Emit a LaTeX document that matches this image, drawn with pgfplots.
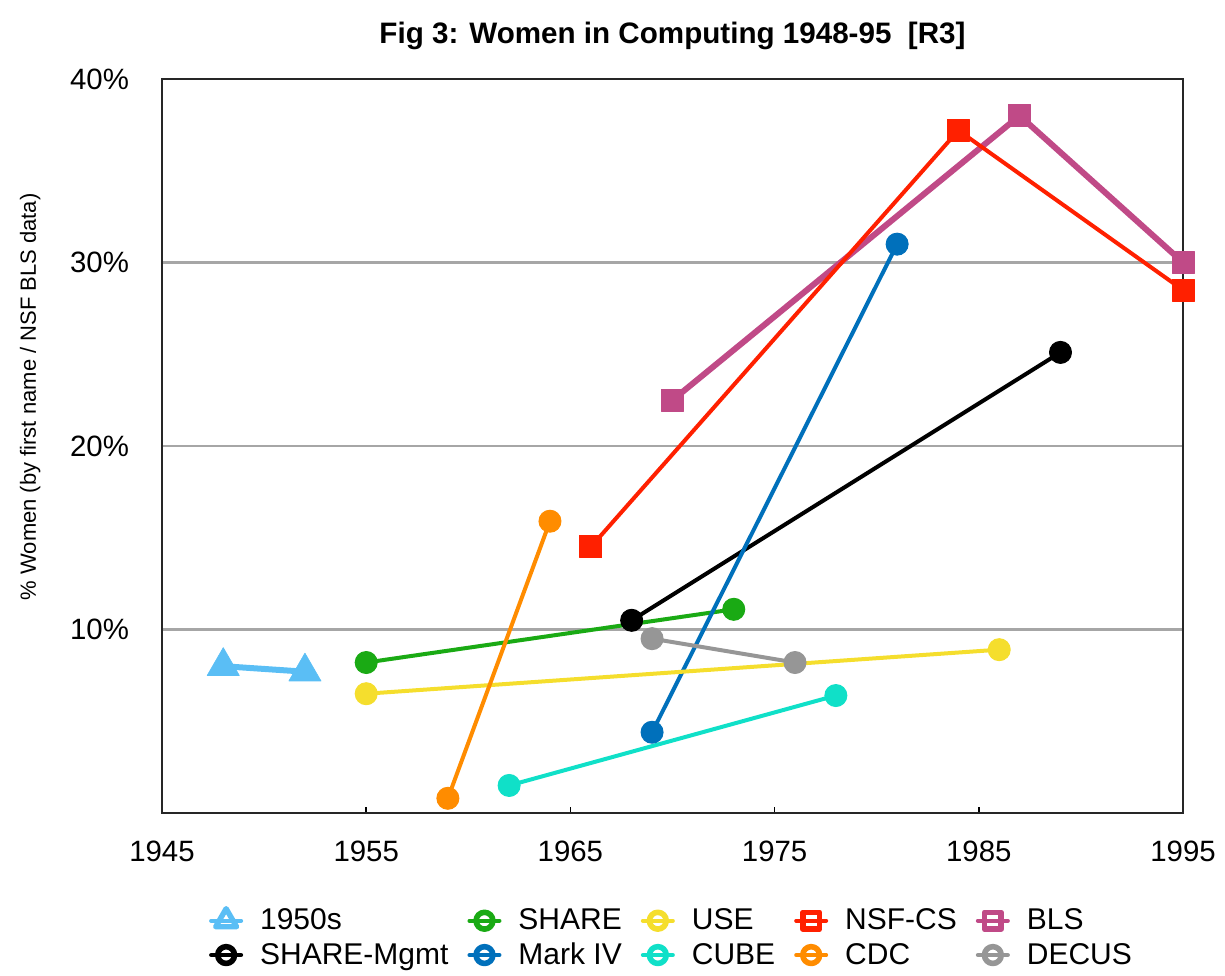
\documentclass[border=0pt]{standalone}
\usepackage{pgfplots}
\pgfplotsset{compat=1.18}
\usepackage{fontspec}
\setmainfont{Liberation Sans}
\definecolor{cFifties}{RGB}{90,190,245}
\definecolor{cShare}{RGB}{26,170,20}
\definecolor{cUse}{RGB}{245,222,45}
\definecolor{cNsf}{RGB}{255,32,0}
\definecolor{cBls}{RGB}{192,74,135}
\definecolor{cMgmt}{RGB}{0,0,0}
\definecolor{cMark}{RGB}{0,112,187}
\definecolor{cCube}{RGB}{16,224,200}
\definecolor{cCdc}{RGB}{255,140,0}
\definecolor{cDecus}{RGB}{150,150,150}
\begin{document}
\begin{tikzpicture}
\begin{axis}[name=ax, scale only axis, width=510.5pt, height=367pt,
  xmin=1945, xmax=1995, ymin=0, ymax=40, clip=false,
  xtick={1945,1955,...,1995}, ytick={10,20,30,40},
  yticklabels={10\%,20\%,30\%,40\%},
  tick label style={font=\fontsize{14.7}{17}\selectfont},
  xticklabel style={yshift=-10.5pt, /pgf/number format/set thousands separator={}, /pgf/number format/assume math mode=true},
  yticklabel style={xshift=-13pt},
  xtick pos=bottom, ytick pos=left, tick align=inside,
  major tick length=3pt, ytick style={draw=none},
  xtick style={black, line width=0.8pt},
  ymajorgrids, grid style={color=black!35, line width=1.2pt},
  axis line style={black!85, line width=1pt},
  title={Fig 3: Women in Computing 1948-95\ \ [R3]},
  title style={font=\bfseries\fontsize{14.8}{17}\selectfont, at={(0.5,1)}, anchor=center, yshift=15.5pt},
  ylabel={\% Women (by first name / NSF BLS data)},
  ylabel style={font=\fontsize{11}{13}\selectfont, at={(axis description cs:-0.129,0.567)}, anchor=center},
  legend style={draw=none, at={(0.5,-0.119)}, anchor=north, legend columns=5,
    font=\fontsize{15}{17}\selectfont, legend cell align=left, row sep=1pt,
    /tikz/every odd column/.append style={column sep=6.5pt},
    /tikz/every even column/.append style={column sep=7.5pt}},
  legend image code/.code={\draw[mark repeat=2,mark phase=2,#1] plot coordinates {(0pt,0pt) (7.5pt,0pt) (15pt,0pt)};},
  every axis plot/.append style={line join=round, line cap=round},
]
% data
\addplot[forget plot, color=cBls, line width=3pt, mark=square*, mark size=5.5pt, mark options={line width=0.5pt}] coordinates {(1970,22.5) (1987,38.0) (1995,30.0)};
\addplot[forget plot, color=cNsf, line width=2pt, mark=square*, mark size=5.5pt, mark options={line width=0.5pt}] coordinates {(1966,14.5) (1984,37.2) (1995,28.5)};
\addplot[forget plot, color=cMgmt, line width=2pt, mark=*, mark size=5.5pt, mark options={line width=0.5pt}] coordinates {(1968,10.5) (1989,25.1)};
\addplot[forget plot, color=cShare, line width=2pt, mark=*, mark size=5.5pt, mark options={line width=0.5pt}] coordinates {(1955,8.2) (1973,11.1)};
\addplot[forget plot, color=cMark, line width=2pt, mark=*, mark size=5.5pt, mark options={line width=0.5pt}] coordinates {(1969,4.4) (1981,31.0)};
\addplot[forget plot, color=cUse, line width=2pt, mark=*, mark size=5.5pt, mark options={line width=0.5pt}] coordinates {(1955,6.5) (1986,8.9)};
\addplot[forget plot, color=cDecus, line width=2pt, mark=*, mark size=5.5pt, mark options={line width=0.5pt}] coordinates {(1969,9.5) (1976,8.2)};
\addplot[forget plot, color=cCube, line width=2pt, mark=*, mark size=5.5pt, mark options={line width=0.5pt}] coordinates {(1962,1.5) (1978,6.4)};
\addplot[forget plot, color=cCdc, line width=2pt, mark=*, mark size=5.5pt, mark options={line width=0.5pt}] coordinates {(1959,0.8) (1964,15.9)};
\addplot[forget plot, color=cFifties, line width=3pt, mark=triangle*, mark size=9.3pt, mark options={line width=0.3pt}] coordinates {(1948,8.0) (1952,7.7)};
% legend
\addlegendimage{color=cFifties, line width=2pt, mark=triangle, mark size=6pt, mark options={fill=white, line width=2.7pt}}
\addlegendentry{1950s}
\addlegendimage{color=cShare, line width=2pt, mark=o, mark size=4.2pt, mark options={fill=white, line width=2.8pt}}
\addlegendentry{SHARE}
\addlegendimage{color=cUse, line width=2pt, mark=o, mark size=4.2pt, mark options={fill=white, line width=2.8pt}}
\addlegendentry{USE}
\addlegendimage{color=cNsf, line width=2pt, mark=square, mark size=4.2pt, mark options={fill=white, line width=2.8pt}}
\addlegendentry{NSF-CS}
\addlegendimage{color=cBls, line width=2pt, mark=square, mark size=4.2pt, mark options={fill=white, line width=2.8pt}}
\addlegendentry{BLS}
\addlegendimage{color=cMgmt, line width=2pt, mark=o, mark size=4.2pt, mark options={fill=white, line width=2.8pt}}
\addlegendentry{SHARE-Mgmt}
\addlegendimage{color=cMark, line width=2pt, mark=o, mark size=4.2pt, mark options={fill=white, line width=2.8pt}}
\addlegendentry{Mark IV}
\addlegendimage{color=cCube, line width=2pt, mark=o, mark size=4.2pt, mark options={fill=white, line width=2.8pt}}
\addlegendentry{CUBE}
\addlegendimage{color=cCdc, line width=2pt, mark=o, mark size=4.2pt, mark options={fill=white, line width=2.8pt}}
\addlegendentry{CDC}
\addlegendimage{color=cDecus, line width=2pt, mark=o, mark size=4.2pt, mark options={fill=white, line width=2.8pt}}
\addlegendentry{DECUS}
\end{axis}
\path (ax.south west) ++(-81pt,-77pt) rectangle ++(612.5pt,483.5pt);
\end{tikzpicture}
\end{document}
